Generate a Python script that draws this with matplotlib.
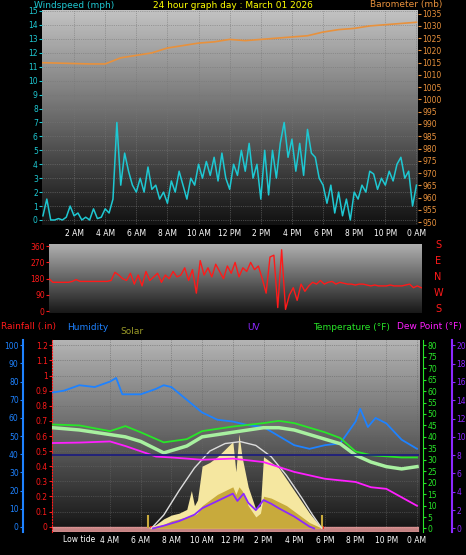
import numpy as np
import matplotlib.pyplot as plt

W, H = 466, 555

# ---- data ----
wind = [0.3, 1.5, 0, 0, 0.1, 0, 0.2, 1.0, 0.3, 0.5, 0, 0.2, 0, 0.8, 0.1, 0.2, 0.8,
        0.5, 1.5, 7.0, 2.5, 4.8, 3.5, 2.5, 2.0, 3.0, 2.0, 3.8, 2.2, 2.5, 1.5, 2.0, 1.2,
        2.8, 2.0, 3.5, 2.5, 1.5, 3.0, 2.5, 4.0, 3.0, 4.2, 3.2, 4.5, 2.8, 4.8, 3.0, 2.2,
        4.0, 3.2, 5.0, 3.5, 5.5, 3.0, 4.0, 1.5, 5.0, 1.8, 5.0, 3.0, 5.5, 7.0, 4.5, 5.8,
        3.5, 5.5, 3.2, 6.5, 4.8, 4.5, 3.0, 2.5, 1.2, 2.5, 0.5, 2.0, 0.3, 1.5, 0.0, 2.0,
        1.5, 2.5, 2.0, 3.5, 3.3, 2.2, 3.0, 2.5, 3.5, 2.8, 4.0, 4.5, 3.0, 3.5, 1.0, 2.5]
baro_t = [0, 3, 4, 5, 6, 7, 8, 9, 10, 11, 12, 13, 14, 15, 16, 17, 18, 19, 20, 21, 22, 23, 24]
baro = [1015, 1014.5, 1014.5, 1017, 1018, 1019, 1021, 1022, 1023, 1023.5, 1024.5, 1024,
        1024.5, 1025, 1025.5, 1026, 1027.5, 1028.5, 1029, 1030, 1030.5, 1031, 1031.5]
wdir = [180, 160, 160, 160, 160, 160, 165, 175, 165, 165, 165, 165, 165, 165, 165, 165, 170,
        215, 200, 180, 170, 210, 150, 200, 140, 220, 170, 190, 210, 160, 200, 180, 220, 190,
        200, 240, 170, 230, 100, 280, 200, 240, 190, 260, 220, 180, 250, 210, 270, 190, 240,
        220, 270, 230, 250, 180, 100, 300, 310, 20, 340, 10, 90, 130, 60, 150, 110, 140, 160,
        150, 170, 150, 160, 165, 150, 160, 155, 150, 150, 145, 150, 150, 145, 140, 145, 140,
        140, 140, 145, 140, 140, 140, 145, 150, 130, 140, 130]
hum_t = [0.25, 1, 2, 3, 4, 4.4, 4.8, 6, 7, 7.5, 8, 9, 10, 11, 12, 13, 14, 15, 16, 17, 18,
         19, 20, 20.3, 20.8, 21.3, 22, 23, 24]
hum = [74, 75, 78, 77, 80, 82, 73, 73, 76, 78, 77, 70, 63, 59, 58, 56, 55, 50, 45, 43, 45,
       46, 58, 65, 55, 60, 57, 48, 43]
temp_t = [0.25, 2, 4, 5, 6, 7.5, 9, 10, 12, 14, 15, 16, 17, 18, 19, 20, 21, 22, 23, 24]
temp = [45.4, 45, 42.5, 44.7, 42, 37.6, 39, 42.5, 44.5, 46, 47, 46, 44, 42, 39.5, 33.6,
        32, 31.5, 31, 31]
chill = [44, 43, 41, 40, 38, 33, 36, 40, 42, 44, 44, 43, 41, 39, 37, 32, 29, 27, 26, 27]
dew_t = [0.25, 2, 4, 5, 7, 8, 10, 12, 14, 16, 18, 20, 21, 22, 23, 24]
dew = [37.3, 37.5, 38, 36, 31.4, 31, 30, 30.5, 29, 24.7, 21.7, 20.3, 18, 17.3, 13.6, 9.9]
uv_t = [6.8, 7.5, 8.5, 9.5, 10, 11, 12, 12.3, 12.7, 13, 13.5, 14, 14.5, 15, 16, 17, 17.3]
uv = [0, 0.3, 0.8, 1.5, 2.2, 3.0, 3.8, 3.0, 3.8, 2.8, 2.0, 3.1, 2.7, 2.2, 1.3, 0.2, 0]
sol_t = [6.5, 7, 7.5, 8, 8.5, 9, 9.3, 9.5, 9.7, 10, 10.5, 11, 11.5, 12, 12.2, 12.4, 12.6,
         13, 13.5, 13.8, 14, 14.5, 15, 15.5, 16, 16.5, 17, 17.8]
sol_hi = [0, 0.02, 0.05, 0.07, 0.08, 0.10, 0.2, 0.12, 0.15, 0.33, 0.35, 0.38, 0.42, 0.46,
          0.3, 0.5, 0.38, 0.22, 0.1, 0.12, 0.38, 0.35, 0.32, 0.26, 0.2, 0.14, 0.08, 0]
sol_lo = [0, 0.01, 0.02, 0.04, 0.05, 0.06, 0.07, 0.07, 0.08, 0.12, 0.15, 0.18, 0.2, 0.22,
          0.18, 0.22, 0.2, 0.12, 0.06, 0.08, 0.17, 0.16, 0.14, 0.12, 0.09, 0.06, 0.03, 0]
smax_t = [6.7, 7.5, 8.5, 9.5, 10.5, 11.5, 12.5, 13.5, 14.5, 15.5, 16.5, 17.2, 17.8]
smax = [0, 0.07, 0.2, 0.32, 0.41, 0.45, 0.46, 0.44, 0.38, 0.28, 0.16, 0.07, 0]
freeze_f = 32
hours = [2, 4, 6, 8, 10, 12, 14, 16, 18, 20, 22, 24]
hour_lbl = ['2 AM', '4 AM', '6 AM', '8 AM', '10 AM', '12 PM', '2 PM', '4 PM', '6 PM',
            '8 PM', '10 PM', '0 AM']

CYAN = '#1ec8d2'
ORANGE = '#e8913c'
RED = '#ff1a1a'
BLUE = '#1e82ff'
GREEN = '#28e628'
MAG = '#ff1eff'
PURP = '#8c28ff'
FS = 5.5

fig = plt.figure(figsize=(W / 100, H / 100), dpi=100)
fig.patch.set_facecolor('black')


def add_ax(x0, y0, x1, y1):
    return fig.add_axes([x0 / W, 1 - y1 / H, (x1 - x0) / W, (y1 - y0) / H])


def gradient(ax, top, bot):
    g = np.linspace(top, bot, 100)[:, None] * np.ones((1, 2))
    ax.imshow(g, cmap='gray', vmin=0, vmax=255, aspect='auto',
              extent=[0, 1, 0, 1], transform=ax.transAxes, zorder=0)


def style(ax):
    for s in ax.spines.values():
        s.set_visible(False)
    ax.tick_params(length=2, labelsize=FS, pad=1)


# ---- top: wind + barometer ----
ax1 = add_ax(42, 10, 418, 225)
gradient(ax1, 195, 18)
ax1.set_xlim(-0.06, 24.1)
ax1.set_ylim(-0.36, 15.07)
style(ax1)
ax1.plot(np.linspace(0, 24, len(wind)), wind, color=CYAN, lw=1.1, zorder=3)
ax1.set_yticks(range(16))
ax1.tick_params(axis='y', colors=CYAN)
ax1.set_xticks(hours)
ax1.set_xticklabels(hour_lbl, color='white')
ax1.grid(True, color='#777777', ls=':', lw=0.5)
ax1b = ax1.twinx()
ax1b.set_ylim(948.8, 1036.5)
style(ax1b)
ax1b.plot(baro_t, baro, color=ORANGE, lw=1.2)
ax1b.set_yticks(range(950, 1036, 5))
ax1b.tick_params(axis='y', colors=ORANGE)
fig.text(34 / W, 1 - 5 / H, 'Windspeed (mph)', color=CYAN, fontsize=6.5, va='center')
fig.text(233 / W, 1 - 5 / H, '24 hour graph day : March 01 2026', color='yellow',
         fontsize=6.5, va='center', ha='center')
fig.text(442 / W, 1 - 5 / H, 'Barometer (mb)', color=ORANGE, fontsize=6.5,
         va='center', ha='right')

# ---- middle: wind direction ----
ax2 = add_ax(49, 244, 422, 313)
gradient(ax2, 175, 25)
ax2.set_xlim(0, 24.05)
ax2.set_ylim(-10, 372)
style(ax2)
ax2.plot(np.linspace(0, 24, len(wdir)), wdir, color=RED, lw=1)
ax2.set_yticks([0, 90, 180, 270, 360])
ax2.tick_params(axis='y', colors=RED)
ax2.set_xticks([])
for i, c in enumerate('SENWS'):
    fig.text(438 / W, 1 - (245 + i * 16) / H, c, color=RED, fontsize=7, ha='center',
             va='center')

# ---- bottom: rain, humidity, solar, uv, temperature ----
fig.text(1 / W, 1 - 327 / H, 'Rainfall (.in)', color=RED, fontsize=6.5, va='center')
fig.text(67 / W, 1 - 327 / H, 'Humidity', color=BLUE, fontsize=6.5, va='center')
fig.text(120 / W, 1 - 332 / H, 'Solar', color='#9a9a28', fontsize=6.5, va='center')
fig.text(247 / W, 1 - 327 / H, 'UV', color=PURP, fontsize=6.5, va='center')
fig.text(313 / W, 1 - 327 / H, 'Temperature (°F)', color=GREEN, fontsize=6.5, va='center')
fig.text(462 / W, 1 - 327 / H, 'Dew Point (°F)', color=MAG, fontsize=6.5, va='center',
         ha='right')

ax3 = add_ax(52, 340, 419, 532)
gradient(ax3, 180, 20)
ax3.set_xlim(0.22, 24.13)
ax3.set_ylim(-0.035, 1.235)
style(ax3)
ax3.spines['left'].set_visible(True)
ax3.spines['left'].set_color(RED)
ax3.spines['left'].set_linestyle(':')
ax3.set_yticks(np.round(np.arange(0, 1.21, 0.1), 1))
ax3.set_yticklabels(['0'] + ['%g' % v for v in np.round(np.arange(0.1, 1.21, 0.1), 1)])
ax3.tick_params(axis='y', colors=RED)
ax3.set_xticks(hours[1:])
ax3.set_xticklabels(hour_lbl[1:], color='white')
ax3.text(2, -0.055, 'Low tide', color='white', fontsize=FS, ha='center', va='top')
ax3.grid(True, color='#666666', ls=':', lw=0.5)
ax3.axhspan(-0.035, 0.0, color='#f0a0a0', alpha=0.8, zorder=2)
ax3.plot([6.7, 17.8], [0, 0], color=RED, lw=2, zorder=6)

axs = ax3.twinx()
axs.set_ylim(-0.02, 1.0)
axs.axis('off')
axs.fill_between(sol_t, sol_hi, color='#f5e7a0', lw=0, zorder=1)
axs.fill_between(sol_t, sol_lo, color='#c8aa3c', lw=0, zorder=2)
axs.plot(smax_t, smax, color='#dddddd', lw=1, zorder=3)
axs.vlines([6.5, 17.8], 0, 0.07, color='#c8aa3c', lw=1.5)

axh = ax3.twinx()
axh.set_ylim(-2.8, 102.9)
style(axh)
axh.spines['left'].set_visible(True)
axh.spines['left'].set_position(('outward', 21))
axh.spines['left'].set_color(BLUE)
axh.spines['left'].set_linewidth(1.5)
axh.yaxis.set_ticks_position('left')
axh.set_yticks(range(0, 101, 10))
axh.tick_params(axis='y', colors=BLUE)
axh.plot(hum_t, hum, color=BLUE, lw=1.3)

axt = ax3.twinx()
axt.set_ylim(-1.55, 82.3)
style(axt)
axt.spines['right'].set_visible(True)
axt.spines['right'].set_color(GREEN)
axt.spines['right'].set_position(('outward', 3))
axt.set_yticks(range(0, 81, 5))
axt.tick_params(axis='y', colors=GREEN)
axt.plot(temp_t, chill, color='#a8f0a0', lw=2.5)
axt.plot(temp_t, temp, color=GREEN, lw=1.3)
axt.plot(dew_t, dew, color=MAG, lw=1.3)
axt.axhline(freeze_f, color='#1a1a80', lw=1.2)

axu = ax3.twinx()
axu.set_ylim(-0.39, 20.58)
style(axu)
axu.spines['right'].set_visible(True)
axu.spines['right'].set_color(PURP)
axu.spines['right'].set_linewidth(1.5)
axu.spines['right'].set_position(('outward', 24))
axu.set_yticks(range(0, 21, 2))
axu.tick_params(axis='y', colors=PURP)
axu.plot(uv_t, uv, color=PURP, lw=1.3)

fig.savefig('out.png', dpi=100, facecolor='black')
